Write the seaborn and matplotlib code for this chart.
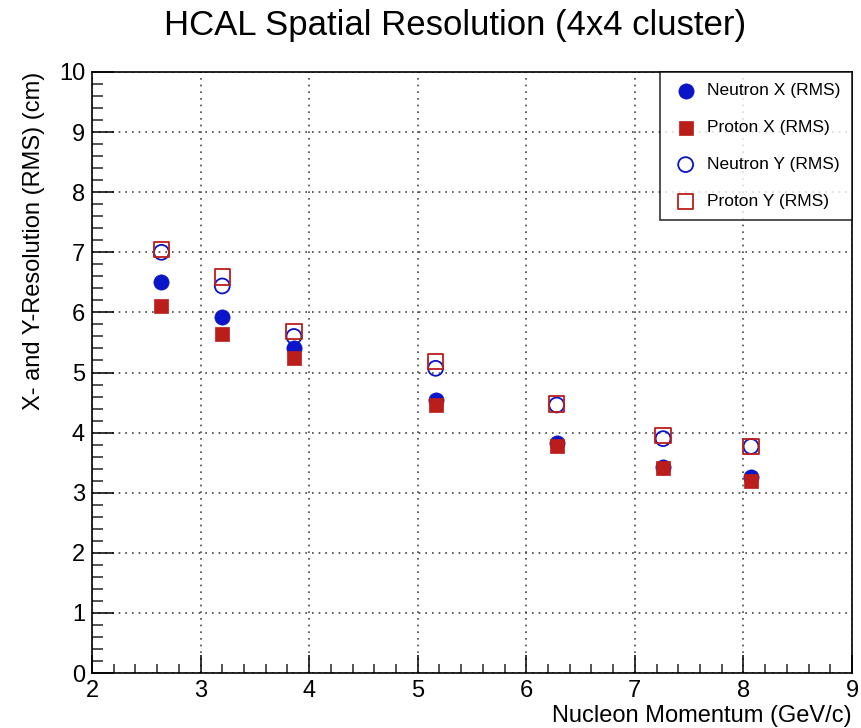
import matplotlib
matplotlib.use("Agg")
import matplotlib.pyplot as plt
from matplotlib.ticker import MultipleLocator
import seaborn as sns
import pandas as pd

momentum = [2.64, 3.20, 3.86, 5.165, 6.28, 7.26, 8.07]
neutron_x = [6.50, 5.92, 5.40, 4.54, 3.82, 3.43, 3.26]
proton_x = [6.11, 5.64, 5.24, 4.46, 3.78, 3.41, 3.20]
neutron_y = [7.00, 6.44, 5.60, 5.07, 4.46, 3.90, 3.77]
proton_y = [7.05, 6.59, 5.68, 5.18, 4.48, 3.95, 3.77]
labels = ["Neutron X (RMS)", "Proton X (RMS)", "Neutron Y (RMS)", "Proton Y (RMS)"]

sns.set_theme(style="white")
plt.rcParams['font.family'] = ['Liberation Sans', 'DejaVu Sans']
plt.rcParams['text.color'] = 'black'

fig = plt.figure(figsize=(8.62, 7.28), dpi=100)
ax = fig.add_axes([0.1067, 0.0755, 0.8817, 0.8256])

blue = "#0a14c8"
red = "#bb1e1a"

series = [
    (neutron_x, labels[0], dict(marker="o", s=120, color=blue, edgecolor=blue, linewidth=0.5)),
    (proton_x, labels[1], dict(marker="s", s=90, color=red, edgecolor=red, linewidth=0.5)),
    (neutron_y, labels[2], dict(marker="o", s=115, facecolor="none", edgecolor=blue, linewidth=1.3)),
    (proton_y, labels[3], dict(marker="s", s=125, facecolor="none", edgecolor=red, linewidth=1.3)),
]
for vals, lab, kw in series:
    df = pd.DataFrame({"p": momentum, "r": vals})
    sns.scatterplot(data=df, x="p", y="r", ax=ax, label=lab, zorder=3, **kw)

ax.set_xlim(2, 9)
ax.set_ylim(0, 10)
ax.xaxis.set_major_locator(MultipleLocator(1))
ax.xaxis.set_minor_locator(MultipleLocator(0.2))
ax.yaxis.set_major_locator(MultipleLocator(1))
ax.yaxis.set_minor_locator(MultipleLocator(0.2))
ax.tick_params(axis="x", which="major", direction="in", length=13, width=1.1,
               labelsize=17, pad=5, bottom=True, top=False, colors="black")
ax.tick_params(axis="x", which="minor", direction="in", length=6.5, width=1.1,
               bottom=True, top=False)
ax.tick_params(axis="y", which="major", direction="in", length=16, width=1.1,
               labelsize=17, pad=5, left=True, right=False, colors="black")
ax.tick_params(axis="y", which="minor", direction="in", length=8, width=1.1,
               left=True, right=False)
for sp in ax.spines.values():
    sp.set_color("black")
    sp.set_linewidth(1.2)
ax.grid(True, which="major", linestyle=(0, (1, 3)), color="#444444", linewidth=1.2)
ax.set_axisbelow(True)

ax.set_xlabel("Nucleon Momentum (GeV/c)", fontsize=17, loc="right", labelpad=2, color="black")
ax.set_ylabel("X- and Y-Resolution (RMS) (cm)", fontsize=17, loc="top", labelpad=10, color="black")
fig.text(0.528, 0.965, "HCAL Spatial Resolution (4x4 cluster)", ha="center", va="center",
         fontsize=25, color="black")

leg = ax.legend(loc="upper right", bbox_to_anchor=(1.0, 1.0), fancybox=False, frameon=True,
                edgecolor="black", fontsize=12.5, labelspacing=1.25, borderpad=0.65,
                handletextpad=0.4, borderaxespad=0, markerscale=1.0, handlelength=1.7)
leg.get_frame().set_linewidth(1.2)
for t in leg.get_texts():
    t.set_color("black")

fig.savefig("out.png", dpi=100, facecolor="white")
